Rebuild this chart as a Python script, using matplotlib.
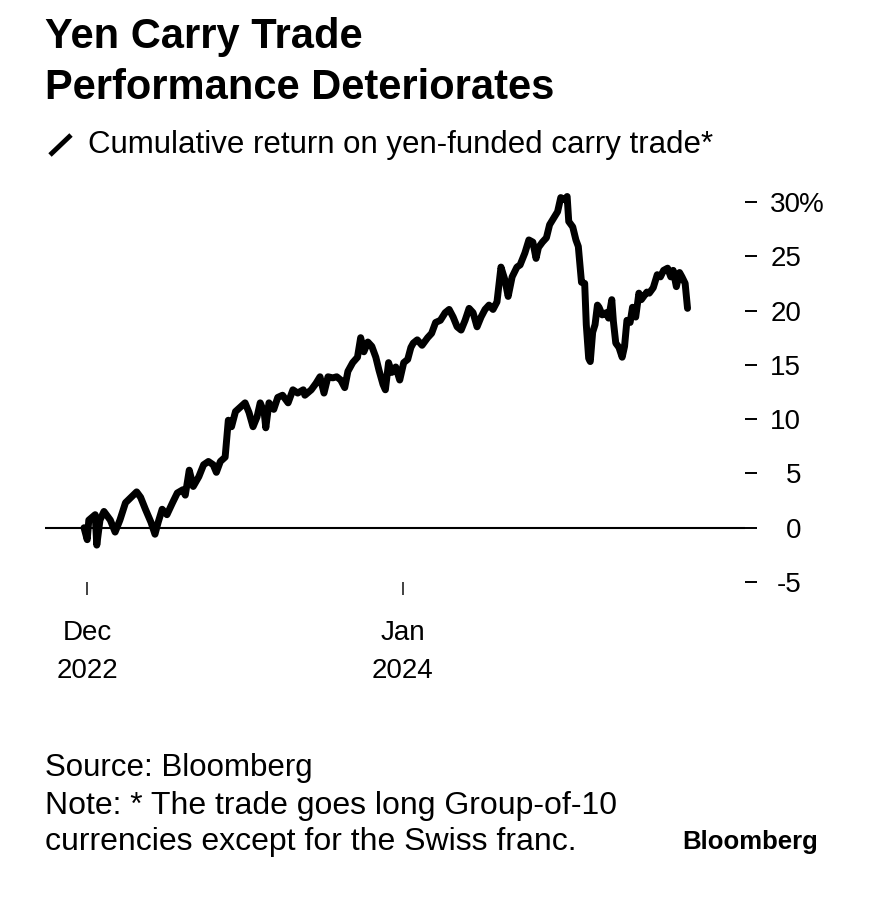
import numpy as np
import matplotlib
matplotlib.use('Agg')
import matplotlib.pyplot as plt
from matplotlib.lines import Line2D

plt.rcParams['font.family'] = ['Liberation Sans', 'DejaVu Sans']

# Dane (skumulowany zwrot, %)
dates = [
    '2022-11-27', '2022-12-01', '2022-12-03', '2022-12-11', '2022-12-13', '2022-12-17',
    '2022-12-22', '2022-12-30', '2023-01-05', '2023-01-11', '2023-01-18', '2023-01-25',
    '2023-02-01', '2023-02-06', '2023-02-12', '2023-02-19', '2023-02-24', '2023-02-28',
    '2023-03-05', '2023-03-11', '2023-03-18', '2023-03-24', '2023-03-31', '2023-04-03',
    '2023-04-08', '2023-04-13', '2023-04-20', '2023-04-26', '2023-05-02', '2023-05-08',
    '2023-05-12', '2023-05-17', '2023-05-23', '2023-05-27', '2023-05-31', '2023-06-05',
    '2023-06-11', '2023-06-17', '2023-06-22', '2023-06-27', '2023-07-02', '2023-07-06',
    '2023-07-11', '2023-07-13', '2023-07-17', '2023-07-23', '2023-07-28', '2023-08-03',
    '2023-08-10', '2023-08-16', '2023-08-22', '2023-08-29', '2023-08-31', '2023-09-08',
    '2023-09-14', '2023-09-19', '2023-09-24', '2023-09-29', '2023-10-05', '2023-10-10',
    '2023-10-15', '2023-10-20', '2023-10-24', '2023-10-30', '2023-11-05', '2023-11-09',
    '2023-11-13', '2023-11-18', '2023-11-23', '2023-11-28', '2023-12-02', '2023-12-07',
    '2023-12-10', '2023-12-14', '2023-12-18', '2023-12-23', '2023-12-28', '2024-01-02',
    '2024-01-07', '2024-01-11', '2024-01-14', '2024-01-19', '2024-01-25', '2024-02-01',
    '2024-02-06', '2024-02-11', '2024-02-17', '2024-02-23', '2024-02-28', '2024-03-04',
    '2024-03-09', '2024-03-14', '2024-03-19', '2024-03-24', '2024-03-29', '2024-04-03',
    '2024-04-08', '2024-04-13', '2024-04-18', '2024-04-23', '2024-04-28', '2024-05-03',
    '2024-05-08', '2024-05-12', '2024-05-17', '2024-05-23', '2024-05-27', '2024-06-02',
    '2024-06-07', '2024-06-12', '2024-06-16', '2024-06-19', '2024-06-24', '2024-06-29',
    '2024-07-03', '2024-07-08', '2024-07-13', '2024-07-17', '2024-07-22', '2024-07-25',
    '2024-07-27', '2024-08-01', '2024-08-05', '2024-08-08', '2024-08-12', '2024-08-16',
    '2024-08-18', '2024-08-21', '2024-08-23', '2024-08-26', '2024-08-29', '2024-09-01',
    '2024-09-03', '2024-09-07', '2024-09-12', '2024-09-15', '2024-09-19', '2024-09-21',
    '2024-09-24', '2024-09-28', '2024-10-02', '2024-10-05', '2024-10-08', '2024-10-12',
    '2024-10-15', '2024-10-19', '2024-10-23', '2024-10-26', '2024-11-02', '2024-11-05',
    '2024-11-10', '2024-11-15', '2024-11-19', '2024-11-23', '2024-11-28', '2024-12-02',
    '2024-12-05', '2024-12-09', '2024-12-13', '2024-12-16', '2024-12-20', '2024-12-23',
]
returns = [
    0.0, -1.1, 0.7, 1.2, -1.6, 0.7,
    1.5, 0.7, -0.4, 0.7, 2.3, 2.8,
    3.3, 2.8, 1.7, 0.5, -0.6, 0.5,
    1.7, 1.2, 2.3, 3.2, 3.5, 3.0,
    5.3, 3.8, 4.7, 5.8, 6.1, 5.8,
    5.1, 6.1, 6.5, 9.9, 9.3, 10.7,
    11.1, 11.5, 10.6, 9.3, 10.2, 11.5,
    10.6, 9.2, 11.5, 10.9, 12.0, 12.2,
    11.5, 12.7, 12.4, 12.7, 12.2, 12.7,
    13.3, 13.9, 12.4, 13.9, 13.8, 13.9,
    13.6, 12.9, 14.4, 15.2, 15.7, 17.5,
    16.2, 17.1, 16.7, 15.7, 14.5, 13.2,
    12.7, 15.2, 14.3, 14.8, 13.6, 15.2,
    15.5, 16.6, 17.0, 17.3, 16.8, 17.5,
    17.9, 18.9, 19.1, 19.8, 20.1, 19.4,
    18.5, 18.2, 19.1, 20.2, 19.8, 18.5,
    19.4, 20.1, 20.5, 20.1, 20.8, 24.0,
    22.8, 21.3, 23.1, 24.0, 24.2, 25.3,
    26.5, 26.3, 24.8, 25.8, 26.3, 26.7,
    27.9, 28.5, 29.1, 30.4, 30.2, 30.5,
    28.2, 27.7, 26.5, 25.9, 22.6, 22.5,
    18.7, 15.6, 15.3, 18.0, 18.7, 20.5,
    20.3, 19.6, 19.8, 19.3, 21.0, 19.0,
    17.0, 16.6, 15.7, 16.7, 19.1, 18.9,
    20.3, 19.4, 21.6, 21.0, 21.7, 21.6,
    22.1, 23.3, 23.1, 23.7, 23.9, 23.1,
    23.7, 22.2, 23.5, 23.1, 22.5, 20.2,
]

y_ticks = [-5, 0, 5, 10, 15, 20, 25, 30]
y_labels = ['-5', '0', '5', '10', '15', '20', '25', '30']
x_ticks = ['2022-12-01', '2024-01-01']
x_labels = ['Dec\n2022', 'Jan\n2024']

x = np.array(dates, dtype='datetime64[D]')
y = np.array(returns)

fig = plt.figure(figsize=(8.73, 9), dpi=100)
ax = fig.add_axes([0.0515, 0.3533, 0.8018, 0.4344])

ax.plot(x, y, color='black', lw=5, solid_joinstyle='round', solid_capstyle='round')
ax.axhline(0, color='black', lw=1.5, zorder=1)

ax.set_xlim(np.datetime64('2022-10-09'), np.datetime64('2025-03-05'))
ax.set_ylim(-5, 31)

for s in ax.spines.values():
    s.set_visible(False)

ax.yaxis.tick_right()
ax.set_yticks(y_ticks)
ax.set_yticklabels(y_labels)
ax.tick_params(axis='y', length=8.5, width=1.4, pad=32, labelsize=20, colors='black')
for lbl in ax.get_yticklabels():
    lbl.set_horizontalalignment('right')
ax.text(1.0 + 54 / 700, 30, '%', transform=ax.get_yaxis_transform(), fontsize=20,
        va='center_baseline', ha='left')

ax.set_xticks(np.array(x_ticks, dtype='datetime64[D]'))
ax.set_xticklabels(x_labels, linespacing=1.62)
ax.tick_params(axis='x', length=9, width=1.3, pad=18, labelsize=20, colors='#333333',
               labelcolor='black')

# Tytuł i podtytuł
fig.text(45 / 873, 1 - 37 / 900, 'Yen Carry Trade', fontsize=30, fontweight='bold', va='center', ha='left')
fig.text(45 / 873, 1 - 88 / 900, 'Performance Deteriorates', fontsize=30, fontweight='bold', va='center', ha='left')
fig.add_artist(Line2D([50 / 873, 71 / 873], [1 - 155 / 900, 1 - 135 / 900], color='black', lw=3.5,
                      solid_capstyle='butt'))
fig.text(88 / 873, 1 - 145 / 900, 'Cumulative return on yen-funded carry trade*', fontsize=22.5,
         va='center', ha='left')

# Stopka
fig.text(45 / 873, 1 - 768 / 900, 'Source: Bloomberg', fontsize=22.5, va='center', ha='left')
fig.text(45 / 873, 1 - 806 / 900, 'Note: * The trade goes long Group-of-10', fontsize=23, va='center', ha='left')
fig.text(45 / 873, 1 - 842 / 900, 'currencies except for the Swiss franc.', fontsize=23, va='center', ha='left')
fig.text(818 / 873, 1 - 842 / 900, 'Bloomberg', fontsize=18.5, fontweight='bold', va='center', ha='right')

fig.savefig('out.png', dpi=100, facecolor='white')
